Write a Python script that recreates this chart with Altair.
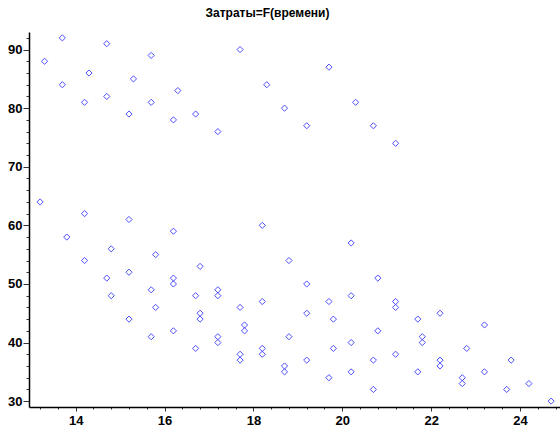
import altair as alt
import pandas as pd

# Data (time, cost)
x_vals = [13.3, 13.7, 13.7, 14.2, 14.3, 14.7, 14.7, 15.2, 15.3, 15.7, 15.7, 16.2, 16.3, 16.7,
          17.2, 17.7, 18.3, 18.7, 19.2, 19.7, 20.3, 20.7, 21.2,
          13.2, 13.8, 14.2, 14.2, 14.7, 14.8, 14.8, 15.2, 15.2, 15.2, 15.7, 15.7, 15.8, 15.8,
          16.2, 16.2, 16.2, 16.2, 16.7, 16.7, 16.8, 16.8, 16.8,
          17.2, 17.2, 17.2, 17.2, 17.7, 17.7, 17.7, 17.8, 17.8, 18.2, 18.2, 18.2, 18.2,
          18.7, 18.7, 18.8, 18.8, 19.2, 19.2, 19.2, 19.7, 19.7, 19.8, 19.8,
          20.2, 20.2, 20.2, 20.2, 20.7, 20.7, 20.8, 20.8,
          21.2, 21.2, 21.2, 21.7, 21.7, 21.8, 21.8, 22.2, 22.2, 22.2, 22.7, 22.7, 22.8,
          23.2, 23.2, 23.7, 23.8, 24.2, 24.7]
y_vals = [88, 92, 84, 81, 86, 91, 82, 79, 85, 89, 81, 78, 83, 79,
          76, 90, 84, 80, 77, 87, 81, 77, 74,
          64, 58, 62, 54, 51, 56, 48, 61, 52, 44, 49, 41, 55, 46,
          59, 51, 50, 42, 48, 39, 53, 45, 44,
          49, 48, 41, 40, 46, 38, 37, 43, 42, 60, 47, 39, 38,
          36, 35, 54, 41, 50, 45, 37, 47, 34, 44, 39,
          57, 48, 40, 35, 37, 32, 51, 42,
          47, 46, 38, 44, 35, 41, 40, 45, 37, 36, 34, 33, 39,
          43, 35, 32, 37, 33, 30]

title_text = "Затраты=F(времени)"
x_tick_values = [round(13.2 + 0.4 * i, 1) for i in range(30)]
y_tick_values = list(range(30, 94, 2))

df = pd.DataFrame({"t": x_vals, "c": y_vals})

axis_common = dict(
    domainColor="#000000",
    domainWidth=1.5,
    tickColor="#333333",
    tickWidth=1,
    labelFont="Liberation Sans",
    labelFontWeight="bold",
    labelFontSize=13,
    labelColor="#000000",
    grid=False,
    title=None,
)

x_major = "abs(datum.value/2 - round(datum.value/2)) < 0.01"
x_axis = alt.Axis(
    values=x_tick_values,
    labelExpr=x_major + " ? format(datum.value, 'd') : ''",
    tickSize={"condition": {"test": x_major, "value": 4}, "value": 2},
    labelPadding=3,
    **axis_common,
)
y_axis = alt.Axis(
    values=y_tick_values,
    labelExpr="datum.value % 10 === 0 ? format(datum.value, 'd') : ''",
    tickSize={"condition": {"test": "datum.value % 10 === 0", "value": 6}, "value": 3},
    labelPadding=1,
    **axis_common,
)

chart = (
    alt.Chart(df)
    .mark_point(shape="diamond", filled=False, color="#3030ff", size=38, strokeWidth=1, opacity=0.85)
    .encode(
        x=alt.X("t:Q", scale=alt.Scale(domain=[12.95, 24.9], nice=False, zero=False), axis=x_axis),
        y=alt.Y("c:Q", scale=alt.Scale(domain=[29, 93], nice=False, zero=False), axis=y_axis),
    )
    .properties(
        width=531,
        height=375,
        title=alt.TitleParams(
            title_text,
            font="Liberation Sans",
            fontSize=12,
            fontWeight="bold",
            color="#000000",
            anchor="middle",
            dx=-27,
            offset=12,
        ),
        autosize=alt.AutoSizeParams(type="none"),
        padding={"left": 29, "top": 32, "right": 0, "bottom": 21},
    )
    .configure(background="white")
    .configure_view(strokeWidth=0, strokeOpacity=0)
)

chart.save("out.html", embed_options={"renderer": "svg", "actions": False})
